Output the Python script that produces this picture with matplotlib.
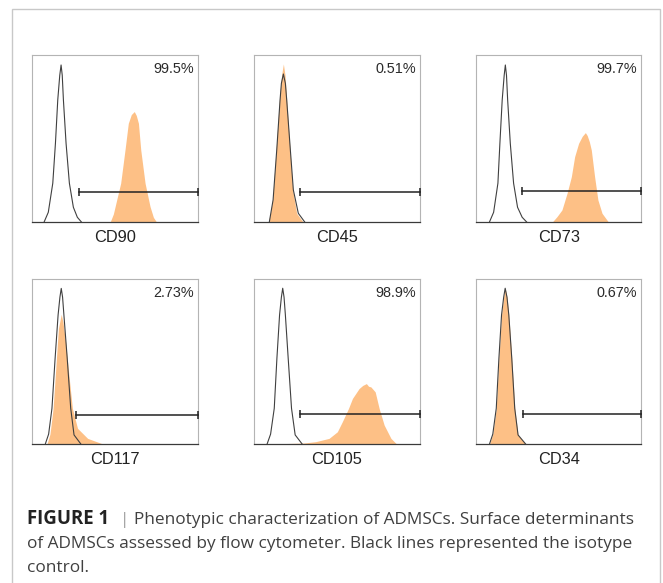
import matplotlib
matplotlib.use("Agg")
import matplotlib.pyplot as plt
from matplotlib.patches import Rectangle

plt.rcParams['font.family'] = ['Liberation Sans', 'DejaVu Sans']

# ---------------- data (x: % of panel width, y: % of panel height) ----------------
markers = ["CD90", "CD45", "CD73", "CD117", "CD105", "CD34"]
percents = ["99.5%", "0.51%", "99.7%", "2.73%", "98.9%", "0.67%"]
gate_start = [28.3, 27.7, 27.7, 26.7, 27.8, 28.5]
gate_level = [18.4, 18.4, 18.8, 17.6, 17.9, 18.0]

# isotype control (black line) curves
cd90_iso_x = [7.4, 10.0, 12.7, 14.3, 15.7, 16.9, 17.7, 18.4, 19.1, 20.7, 22.7, 25.1, 27.5, 30.1]
cd90_iso_y = [0, 6, 23.4, 47.3, 73.3, 88, 94.2, 88, 73.3, 47.3, 23.4, 9, 3, 0]
cd45_iso_x = [9.2, 11.5, 13.7, 15.7, 16.5, 17.7, 18.9, 19.7, 21.9, 23.7, 26.7, 30.7]
cd45_iso_y = [0, 13.4, 43.3, 73.3, 83.2, 88.8, 83.2, 73.3, 43.3, 19.4, 5.4, 0]
cd73_iso_x = [7.9, 10.5, 13.1, 14.3, 15.7, 16.9, 17.6, 18.3, 19.0, 20.6, 22.6, 25.0, 27.8, 30.7]
cd73_iso_y = [0, 6, 23.4, 47.3, 73.3, 88, 94.2, 88, 73.3, 47.3, 23.4, 9, 3, 0]
cd117_iso_x = [8.2, 10.2, 12.2, 14.1, 15.9, 17.0, 17.8, 18.6, 19.4, 21.4, 23.5, 25.5, 29.6]
cd117_iso_y = [0, 6, 21.6, 51.9, 78.2, 89, 94.3, 89, 78.2, 51.9, 21.6, 5.5, 0]
cd105_iso_x = [7.9, 10.0, 12.2, 13.8, 15.4, 16.5, 17.3, 18.1, 18.9, 20.6, 22.6, 24.8, 29.0]
cd105_iso_y = [0, 6, 21.6, 51.9, 78.2, 89, 94.4, 89, 78.2, 51.9, 21.6, 5.5, 0]
cd34_iso_x = [8.0, 10.0, 12.1, 13.7, 15.3, 16.6, 17.5, 18.6, 19.7, 21.5, 23.3, 25.3, 29.9]
cd34_iso_y = [0, 6, 21.6, 51.9, 78.2, 89, 94.4, 89, 78.2, 51.9, 21.6, 5.5, 0]

# stained sample (orange filled) curves
cd90_x = [47.2, 49.2, 51.2, 53.6, 56.2, 58.2, 60.0, 61.8, 63.0, 64.3, 65.7, 68.3, 71.3, 73.3, 75.3]
cd90_y = [0, 5, 13.4, 23.4, 43.3, 59.3, 64.5, 66.3, 64.0, 59.3, 43.3, 23.4, 9.4, 3, 0]
cd45_x = [8.6, 9.8, 11.2, 13.3, 15.3, 16.6, 17.7, 18.7, 19.7, 21.7, 23.3, 25.7, 29.7]
cd45_y = [0, 5, 13.4, 43.3, 73.3, 88, 94.8, 88, 73.3, 43.3, 19.4, 5.4, 0]
cd73_x = [45.9, 48.9, 51.9, 55.0, 57.6, 59.6, 62.0, 64.2, 66.1, 67.2, 68.5, 69.7, 71.7, 73.7, 76.2, 80.2]
cd73_y = [0, 3.4, 7.4, 17.4, 27.3, 39.3, 47.3, 51.5, 53.7, 52.0, 48.3, 43.3, 27.3, 13.4, 5.4, 0]
cd117_x = [9.2, 11.0, 12.9, 14.9, 16.1, 17.8, 18.8, 20.4, 22.4, 24.5, 27.6, 33.7, 42.9]
cd117_y = [0, 6, 21.6, 51.9, 70.0, 78.6, 74.0, 62.0, 41.8, 21.6, 9.5, 3.4, 0]
cd105_x = [10.9, 20.0, 30.0, 37.1, 45.2, 50.2, 53.2, 56.9, 59.3, 63.3, 65.5, 67.7, 69.0, 70.4, 73.0, 75.4, 78.4, 82.5, 85.9]
cd105_y = [0, 0.3, 0.6, 1.4, 3.4, 7.4, 13.5, 21.5, 27.6, 33.6, 35.5, 36.6, 35.0, 34.6, 31.6, 21.5, 11.5, 3.4, 0]
cd34_x = [8.0, 10.0, 12.1, 13.7, 15.3, 16.6, 17.5, 18.6, 19.7, 21.5, 23.3, 25.3, 29.9]
cd34_y = [0, 6, 21.6, 51.9, 78.2, 89, 94.4, 89, 78.2, 51.9, 21.6, 5.5, 0]

iso_curves = [(cd90_iso_x, cd90_iso_y), (cd45_iso_x, cd45_iso_y), (cd73_iso_x, cd73_iso_y),
              (cd117_iso_x, cd117_iso_y), (cd105_iso_x, cd105_iso_y), (cd34_iso_x, cd34_iso_y)]
sample_curves = [(cd90_x, cd90_y), (cd45_x, cd45_y), (cd73_x, cd73_y),
                 (cd117_x, cd117_y), (cd105_x, cd105_y), (cd34_x, cd34_y)]

caption_bold = "FIGURE 1"
caption_line1 = "Phenotypic characterization of ADMSCs. Surface determinants"
caption_line2 = "of ADMSCs assessed by flow cytometer. Black lines represented the isotype"
caption_line3 = "control."

# ---------------- figure ----------------
W, H = 663, 583
fig = plt.figure(figsize=(W / 100, H / 100), dpi=100)
fig.patch.set_facecolor('white')

# outer frame (bottom edge falls outside the image)
fig.add_artist(Rectangle((11.5 / W, -0.1), (660 - 11.5) / W, 1 - 9 / H + 0.1,
                         transform=fig.transFigure, fill=False,
                         edgecolor='#c8c8c8', linewidth=1.0))

col_left = [31.7, 254.0, 476.3]
col_w = [166, 166, 165]
row_top = [55.3, 279.0]
row_h = [167, 165]
label_y = [238, 460]

panel_font = ['Liberation Sans', 'DejaVu Sans']
orange = '#fdc086'
for i in range(6):
    r, c = divmod(i, 3)
    ax = fig.add_axes([col_left[c] / W, 1 - (row_top[r] + row_h[r]) / H, col_w[c] / W, row_h[r] / H])
    ax.set_xlim(0, 100)
    ax.set_ylim(0, 100)
    ax.set_xticks([])
    ax.set_yticks([])
    for s in ['left', 'top', 'right']:
        ax.spines[s].set_color('#b4b4b4')
        ax.spines[s].set_linewidth(0.8)
    ax.spines['bottom'].set_color('#3a3a3a')
    ax.spines['bottom'].set_linewidth(0.9)

    sx, sy = sample_curves[i]
    ax.fill_between(sx, sy, 0, color=orange, linewidth=0, zorder=2)
    ix, iy = iso_curves[i]
    ax.plot(ix, iy, color='#404040', linewidth=0.8, zorder=3)

    g0, gl = gate_start[i], gate_level[i]
    ax.plot([g0, 100], [gl, gl], color='#222222', linewidth=1.1, zorder=4,
            marker='|', markersize=6, markeredgewidth=1.1, clip_on=False)

    ax.text(97.5, 91.6, percents[i], ha='right', va='center', fontsize=10.4,
            family=panel_font, color='#2a2a2a')
    fig.text((col_left[c] + col_w[c] / 2) / W, 1 - label_y[r] / H, markers[i],
             ha='center', va='center', fontsize=11.8, family=panel_font, color='#222222')

# caption
cap_font = ['Open Sans', 'DejaVu Sans']
cap_fs = 12.4
fig.text(27.3 / W, 1 - 523.5 / H, caption_bold, fontsize=13.4, fontweight='bold',
         family=cap_font, color='#222222', va='baseline')
fig.text(119.5 / W, 1 - 523.5 / H, "|", fontsize=cap_fs, family=cap_font,
         color='#9a9a9a', va='baseline')
fig.text(134 / W, 1 - 523.5 / H, caption_line1,
         fontsize=cap_fs, family=cap_font, color='#404040', va='baseline')
fig.text(27.3 / W, 1 - 548 / H, caption_line2,
         fontsize=cap_fs, family=cap_font, color='#404040', va='baseline')
fig.text(27.3 / W, 1 - 572.5 / H, caption_line3, fontsize=cap_fs, family=cap_font,
         color='#404040', va='baseline')

fig.savefig("out.png", dpi=100, facecolor='white')
